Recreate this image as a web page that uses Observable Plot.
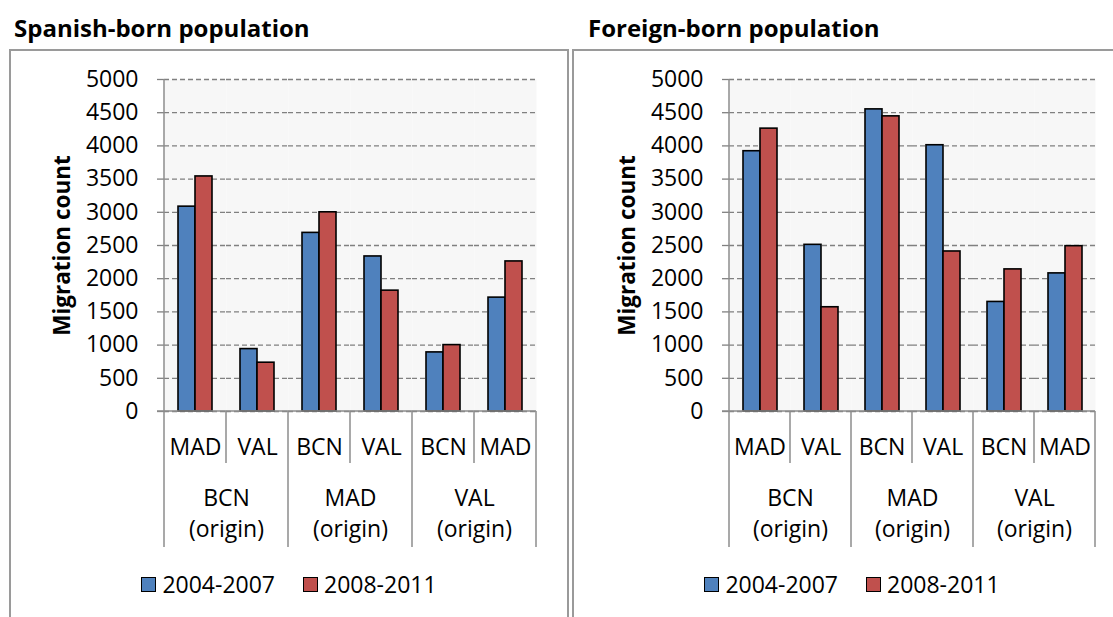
<!DOCTYPE html>
<html>
<head>
<meta charset="utf-8">
<script src="https://cdn.jsdelivr.net/npm/d3@7"></script>
<script src="https://cdn.jsdelivr.net/npm/@observablehq/plot@0.6"></script>
<style>
  html, body { margin: 0; padding: 0; }
  body { width: 1113px; height: 617px; overflow: hidden; background: #fff; position: relative; font-family: "Open Sans", sans-serif; color: #000; }
  .panel { position: absolute; top: 49px; height: 620px; box-sizing: border-box; border: 2px solid #9a9a9a; }
  .title { position: absolute; top: 16px; font-weight: 700; font-size: 24px; line-height: 24px; white-space: nowrap; }
  .chart { position: absolute; top: 0; }
  .legend { position: absolute; top: 573px; height: 23px; display: flex; justify-content: center; align-items: center; font-size: 23px; line-height: 23px; }
  .legend .item { display: flex; align-items: center; }
  .legend .sw { width: 13px; height: 13px; border: 1.5px solid #000; margin-right: 6px; }
  .legend .item + .item { margin-left: 28px; }
</style>
</head>
<body>
<div class="panel" style="left:9px; width:560px;"></div>
<div class="panel" style="left:572px; width:560px;"></div>
<div class="title" style="left:14px;">Spanish-born population</div>
<div class="title" style="left:588px;">Foreign-born population</div>
<div id="left" class="chart" style="left:0px;"></div>
<div id="right" class="chart" style="left:560px;"></div>
<div id="legL" class="legend" style="left:9px; width:560px;"></div>
<div id="legR" class="legend" style="left:572px; width:560px;"></div>
<script>
// ---- data ----
const origins      = ["BCN", "BCN", "MAD", "MAD", "VAL", "VAL"];
const destinations = ["MAD", "VAL", "BCN", "VAL", "BCN", "MAD"];
const originNames  = ["BCN", "MAD", "VAL"];
const periods      = ["2004-2007", "2008-2011"];
const spanish2004  = [3085, 940, 2690, 2335, 890, 1715];
const spanish2008  = [3540, 735, 3000, 1820, 1000, 2260];
const foreign2004  = [3920, 2510, 4550, 4010, 1650, 2080];
const foreign2008  = [4260, 1570, 4445, 2410, 2140, 2490];
const yTicks       = [0, 500, 1000, 1500, 2000, 2500, 3000, 3500, 4000, 4500, 5000];
const colors       = ["#4F81BD", "#C0504D"];
const yTitle       = "Migration count";

const keys = origins.map((o, i) => o + "|" + destinations[i]);

function rows(a, b) {
  const out = [];
  keys.forEach((k, i) => {
    out.push({key: k, period: periods[0], value: a[i]});
    out.push({key: k, period: periods[1], value: b[i]});
  });
  return out;
}

function chart(data, opts) {
  const plot = Plot.plot({
    width: opts.width,
    height: 617,
    marginLeft: opts.marginLeft,
    marginRight: opts.marginRight,
    marginTop: 79,
    marginBottom: 206,
    style: {fontFamily: "Open Sans", fontSize: "23px", color: "#000", background: "transparent", overflow: "visible"},
    fx: {domain: keys, padding: 0, label: null},
    x: {domain: periods, paddingInner: 0, paddingOuter: 0.77, axis: null},
    y: {domain: [0, 5000], label: null},
    color: {domain: periods, range: colors},
    marks: [
      Plot.frame({fill: "#f7f7f7", stroke: "none"}),
      Plot.gridY(yTicks, {stroke: "#808080", strokeOpacity: 1, strokeWidth: 1.3, strokeDasharray: "5,3"}),
      Plot.axisY({ticks: yTicks, tickSize: 7, tickPadding: 19, fontSize: 23, label: null,
                  tickFormat: d => String(d), stroke: "#808080", strokeWidth: 1.3}),
      Plot.barY(data, {fx: "key", x: "period", y: "value", fill: "period", stroke: "#000", strokeWidth: 1.6}),
      Plot.axisFx({anchor: "bottom", tickSize: 0, tickPadding: 27, fontSize: 23, label: null,
                   tickFormat: k => destinations[keys.indexOf(k)]}),
      Plot.text(originNames, {fx: d => keys[origins.indexOf(d)], text: d => d + "\n(origin)",
                 frameAnchor: "bottom-right", textAnchor: "middle", lineAnchor: "top",
                 dy: 72, lineHeight: 1.35, fontSize: 23}),
      Plot.text([yTitle], {fx: () => keys[0], frameAnchor: "left", textAnchor: "middle", rotate: -90, dx: -102,
                 fontWeight: "bold", fontSize: 22.5})
    ]
  });

  // axis lines and category separators, placed with the plot's own scales
  const fx = plot.scale("fx"), y = plot.scale("y");
  const y0 = y.apply(0), yTop = y.apply(5000);
  const bw = fx.bandwidth;
  const xStart = fx.apply(keys[0]);
  const xEnd = fx.apply(keys[keys.length - 1]) + bw;
  const g = d3.select(plot).append("g").attr("stroke", "#8c8c8c").attr("stroke-width", 1.5);
  g.append("line").attr("x1", xStart).attr("x2", xStart).attr("y1", yTop).attr("y2", y0);
  g.append("line").attr("x1", xStart - 7).attr("x2", xEnd).attr("y1", y0).attr("y2", y0);
  keys.forEach((k, i) => {
    const x = fx.apply(k);
    const groupStart = i === 0 || origins[i] !== origins[i - 1];
    g.append("line").attr("x1", x).attr("x2", x).attr("y1", y0).attr("y2", y0 + (groupStart ? 136 : 52));
  });
  g.append("line").attr("x1", xEnd).attr("x2", xEnd).attr("y1", y0).attr("y2", y0 + 136);
  return plot;
}

document.getElementById("left").append(chart(rows(spanish2004, spanish2008), {width: 560, marginLeft: 162, marginRight: 22}));
document.getElementById("right").append(chart(rows(foreign2004, foreign2008), {width: 553, marginLeft: 167, marginRight: 16}));

function legend(el) {
  periods.forEach((p, i) => {
    const item = document.createElement("div");
    item.className = "item";
    const sw = document.createElement("div");
    sw.className = "sw";
    sw.style.background = colors[i];
    const t = document.createElement("span");
    t.textContent = p;
    item.append(sw, t);
    el.append(item);
  });
}
legend(document.getElementById("legL"));
legend(document.getElementById("legR"));
</script>
</body>
</html>
